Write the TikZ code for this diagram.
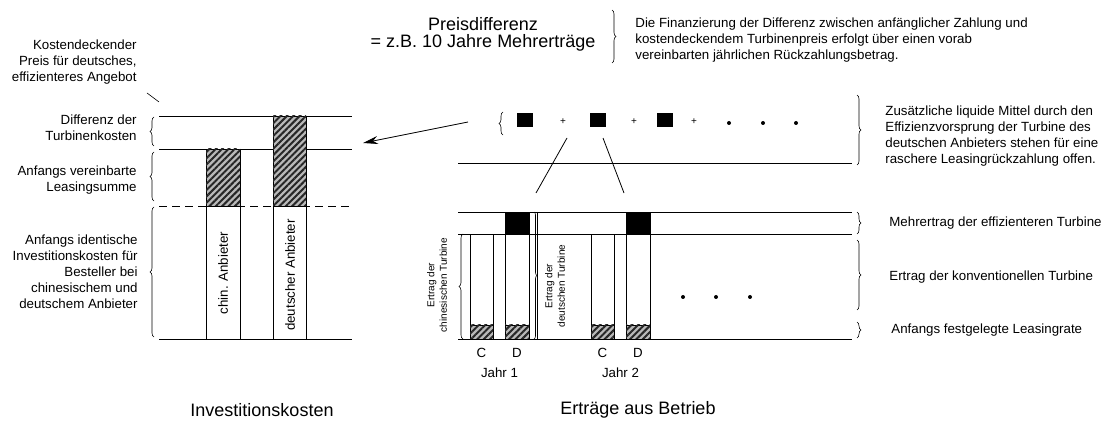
\documentclass[tikz,border=0pt]{standalone}
\usepackage{fontspec}
\setmainfont{Liberation Sans}
\usetikzlibrary{positioning,arrows.meta,decorations.pathreplacing,patterns.meta}

\begin{document}
\begin{tikzpicture}[x=1pt,y=-1pt,>=Stealth,line width=0.8pt,
  every node/.style={font=\fontsize{13.3}{16}\selectfont,inner sep=0pt},
  lbl/.style={align=right,anchor=east},
  rlbl/.style={align=left,anchor=west},
  tiny/.style={font=\fontsize{10}{12.5}\selectfont,rotate=90,align=center},
  title/.style={font=\fontsize{18}{21}\selectfont},
  brc/.style={decorate,decoration={brace,amplitude=4pt},line width=0.6pt},
  hatch/.style={draw,fill=gray!55,postaction={pattern={Lines[angle=45,distance=4.5pt,line width=2pt]},pattern color=black!85}},
  bar/.style={draw,fill=white}]
\useasboundingbox (0,0) rectangle (1104,422);

% left: investment costs
\draw (159,116) -- (352,116);
\draw (159,149) -- (352,149);
\draw[dash pattern=on 8pt off 5pt] (159,206) -- (352,206);
\draw (159,339) -- (352,339);
\draw[hatch] (206,149) rectangle (240,206);
\draw[bar] (206,206) rectangle (240,339);
\draw[hatch] (273,116) rectangle (306,206);
\draw[bar] (273,206) rectangle (306,339);
\node[rotate=90] (chin) at (223,273) {chin. Anbieter};
\node[rotate=90] (deut) at (290,275) {deutscher Anbieter};

\draw[brc] (154,146) -- (154,117);
\draw[brc] (154,201) -- (154,152);
\draw[brc] (154,337) -- (154,207);
\node[lbl] (kosten) at (137,62) {Kostendeckender\\Preis für deutsches,\\effizienteres Angebot};
\coordinate (k1) at (147,93);
\coordinate (k2) at (159,102);
\draw[line width=0.6pt] (k1) -- (k2);
\node[lbl] (diff) at (137,128) {Differenz der\\Turbinenkosten};
\node[lbl] (leas) at (137,180) {Anfangs vereinbarte\\Leasingsumme};
\node[lbl] (ident) at (138,272) {Anfangs identische\\Investitionskosten für\\Besteller bei\\chinesischem und\\deutschem Anbieter};
\node[title] (invest) at (262,410) {Investitionskosten};

% top: price difference
\node[title,align=center] (preis) at (483,34) {Preisdifferenz\\[-4pt]= z.B. 10 Jahre Mehrerträge};
\draw[brc] (612,10) -- (612,63);
\node[rlbl] (fin) at (635,40) {Die Finanzierung der Differenz zwischen anfänglicher Zahlung und\\kostendeckendem Turbinenpreis erfolgt über einen vorab\\vereinbarten jährlichen Rückzahlungsbetrag.};

% extra yields
\draw[brc] (503,135) -- (503,112);
\foreach \x in {517,590,657} \fill (\x,113) rectangle +(16,14);
\foreach \x in {563,634,694} \node[font=\fontsize{10}{10}\selectfont] (plus\x) at (\x,122) {+};
\foreach \x in {729,763,796} \fill (\x,123) circle (2pt);
\draw (458,163) -- (852,163);
\draw[brc] (857,95) -- (857,165);
\node[rlbl] (liq) at (885,136) {Zusätzliche liquide Mittel durch den\\Effizienzvorsprung der Turbine des\\deutschen Anbieters stehen für eine\\raschere Leasingrückzahlung offen.};
\coordinate (sumL) at (468,122);
\coordinate (diffR) at (363,143);
\draw[-{Stealth[length=15pt,width=8pt]}] (sumL) -- (diffR);
\coordinate (l1) at (567,138); \coordinate (l2) at (536,193);
\coordinate (r1) at (603,138); \coordinate (r2) at (624,193);
\draw (l1) -- (l2);
\draw (r1) -- (r2);

% bottom middle: yields per year
\draw (458,212) -- (852,212);
\draw (458,234) -- (852,234);
\draw (458,339) -- (852,339);
\foreach \c/\d/\n in {470/505/1,591/626/2} {
  \draw[bar] (\c,234) rectangle (\c+23,339);
  \draw[hatch] (\c,325) rectangle (\c+23,339);
  \fill (\d,212) rectangle (\d+24,234);
  \draw[bar] (\d,234) rectangle (\d+24,339);
  \draw[hatch] (\d,325) rectangle (\d+24,339);
  \draw (\d,212) rectangle (\d+24,234);
  \node (c\n) at (\c+11.5,353) {C};
  \node (d\n) at (\d+12,353) {D};
  \node (jahr\n) at ({(\c+\d+24)/2},373) {Jahr \n};
}
\draw[brc] (463,339) -- (463,234);
\node[tiny] (ertc) at (437,285) {Ertrag der\\chinesischen Turbine};
\draw[brc,decoration={amplitude=3pt}] (534,212) -- (534,339);
\draw (537,212) -- (537,339);
\node[tiny] (ertd) at (555,286) {Ertrag der\\deutschen Turbine};
\foreach \x in {683,716,750} \fill (\x,297) circle (2pt);

\draw[brc] (857,212) -- (857,234);
\draw[brc] (857,240) -- (857,310);
\draw[brc] (857,322) -- (857,338);
\node[rlbl] (mehr) at (889,223) {Mehrertrag der effizienteren Turbine};
\node[rlbl] (konv) at (889,277) {Ertrag der konventionellen Turbine};
\node[rlbl] (rate) at (891,330) {Anfangs festgelegte Leasingrate};
\node[title] (betrieb) at (638,410) {Erträge aus Betrieb};
\end{tikzpicture}
\end{document}
